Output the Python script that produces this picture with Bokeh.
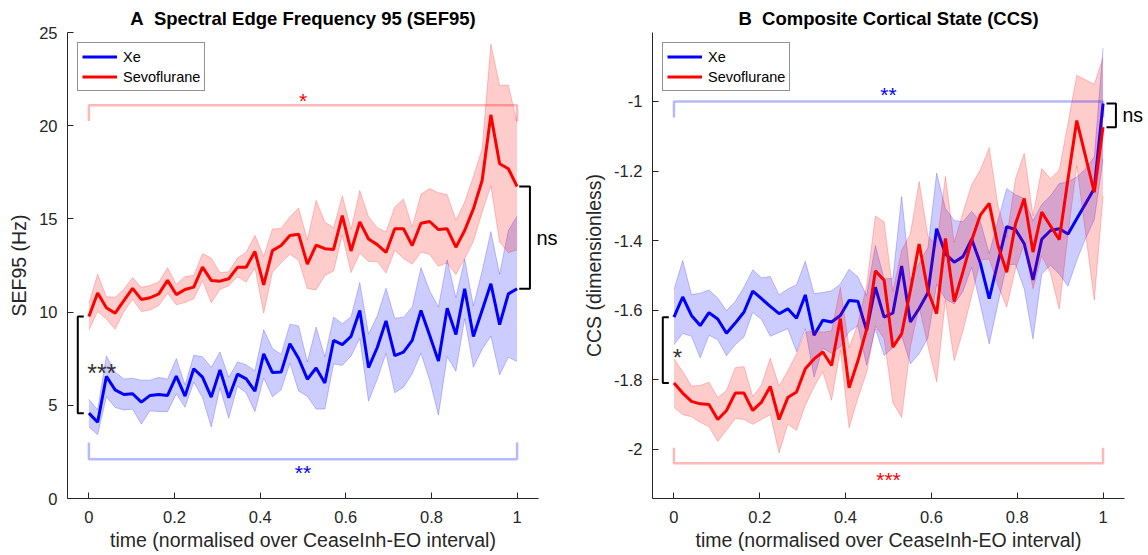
import numpy as np
from bokeh.plotting import figure
from bokeh.models import Range1d, FixedTicker, CustomJSTickFormatter, Legend, LegendItem, LinearAxis
from bokeh.layouts import row
from bokeh.embed import file_html
from bokeh.resources import INLINE
from bokeh.core.properties import value

# ---------------- data ----------------
time = np.linspace(0, 1, 50)

sef_xe = [4.58, 4.09, 6.55, 5.83, 5.58, 5.62, 5.17, 5.53, 5.58, 5.53,
          6.56, 5.49, 6.96, 6.51, 5.44, 6.90, 5.40, 6.67, 6.42, 5.76,
          7.76, 6.76, 6.78, 8.30, 7.51, 6.40, 7.00, 6.20, 8.48, 8.26,
          8.70, 10.09, 7.02, 8.10, 9.53, 7.67, 7.85, 8.48, 10.09, 8.74,
          7.37, 10.21, 8.80, 11.25, 8.69, 10.10, 11.52, 9.33, 10.98, 11.25]
sef_xe_err = [0.74, 0.67, 1.1, 0.95, 0.83, 0.83, 1.18, 0.82, 0.92, 0.87,
              0.95, 0.6, 0.72, 1.1, 1.6, 0.96, 1.1, 0.65, 0.76, 1.1,
              1.3, 1.3, 0.95, 1.05, 1.75, 0.92, 2.2, 1.4, 1.26, 1.12,
              1.05, 1.5, 1.8, 1.7, 1.75, 2.0, 1.88, 1.79, 2.3, 2.4,
              2.9, 2.6, 1.97, 1.6, 1.65, 2.1, 2.8, 2.7, 3.4, 3.9]
sef_sevo = [9.76, 11.03, 10.23, 9.94, 10.62, 11.27, 10.68, 10.77, 10.98, 11.70,
            10.94, 11.21, 11.34, 12.41, 11.70, 11.66, 11.79, 12.40, 12.41, 13.25,
            11.46, 13.30, 13.57, 14.11, 14.18, 12.57, 13.59, 13.40, 13.36, 15.18,
            13.28, 14.84, 13.92, 13.62, 13.20, 14.47, 14.47, 13.57, 14.77, 14.86,
            14.43, 14.47, 13.48, 14.38, 15.54, 17.06, 20.58, 17.96, 17.69, 16.74]
sef_sevo_err = [0.72, 1.0, 0.6, 0.86, 0.6, 0.58, 0.65, 0.66, 0.63, 0.68,
                0.55, 0.7, 0.63, 0.73, 1.2, 0.45, 0.38, 0.5, 0.8, 0.87,
                1.52, 1.16, 0.92, 1.0, 1.4, 1.3, 2.4, 1.43, 1.16, 1.05,
                1.16, 1.68, 1.2, 0.91, 1.1, 1.16, 1.6, 1.0, 1.55, 1.77,
                1.97, 1.83, 1.46, 1.52, 1.74, 1.7, 3.8, 4.2, 4.5, 3.4]

ccs_xe = [-1.620, -1.562, -1.615, -1.644, -1.607, -1.625, -1.666, -1.637, -1.605, -1.545,
          -1.567, -1.589, -1.610, -1.596, -1.623, -1.556, -1.672, -1.629, -1.634, -1.615,
          -1.572, -1.574, -1.658, -1.534, -1.620, -1.608, -1.473, -1.634, -1.595, -1.550,
          -1.366, -1.438, -1.462, -1.446, -1.396, -1.466, -1.567, -1.462, -1.360, -1.368,
          -1.409, -1.513, -1.396, -1.371, -1.366, -1.381, -1.337, -1.294, -1.250, -1.006]
ccs_xe_err = [0.079, 0.105, 0.06, 0.093, 0.065, 0.06, 0.065, 0.062, 0.072, 0.061,
              0.06, 0.086, 0.054, 0.057, 0.096, 0.097, 0.12, 0.08, 0.09, 0.09,
              0.09, 0.07, 0.1, 0.12, 0.11, 0.1, 0.2, 0.12, 0.13, 0.13,
              0.16, 0.13, 0.12, 0.1, 0.08, 0.12, 0.13, 0.12, 0.11, 0.1,
              0.13, 0.17, 0.1, 0.1, 0.13, 0.15, 0.12, 0.1, 0.09, 0.16]
ccs_sevo = [-1.809, -1.838, -1.862, -1.869, -1.871, -1.914, -1.888, -1.838, -1.838, -1.888,
            -1.864, -1.819, -1.914, -1.851, -1.835, -1.768, -1.740, -1.720, -1.759, -1.624,
            -1.823, -1.746, -1.655, -1.487, -1.514, -1.706, -1.668, -1.543, -1.410, -1.545,
            -1.610, -1.394, -1.575, -1.490, -1.399, -1.326, -1.293, -1.414, -1.491, -1.352,
            -1.279, -1.433, -1.318, -1.358, -1.397, -1.222, -1.055, -1.158, -1.261, -1.074]
ccs_sevo_err = [0.07, 0.062, 0.044, 0.053, 0.064, 0.063, 0.057, 0.073, 0.076, 0.04,
                0.05, 0.081, 0.096, 0.077, 0.11, 0.105, 0.08, 0.057, 0.1, 0.09,
                0.115, 0.107, 0.125, 0.158, 0.168, 0.16, 0.24, 0.163, 0.18, 0.158,
                0.196, 0.178, 0.17, 0.17, 0.16, 0.13, 0.16, 0.115, 0.1, 0.13,
                0.13, 0.105, 0.125, 0.136, 0.2, 0.16, 0.13, 0.22, 0.31, 0.2]

series_names = ["Xe", "Sevoflurane"]
x_ticks = [0, 0.2, 0.4, 0.6, 0.8, 1]
sef_ticks = [0, 5, 10, 15, 20, 25]
ccs_ticks = [-2, -1.8, -1.6, -1.4, -1.2, -1]

FONT = "Liberation Sans"
AX = "#262626"
BLUE = "#0000ff"
RED = "#ff0000"

fmt = CustomJSTickFormatter(code="return (Math.round(tick*1000)/1000).toString();")


def make_fig(title, ylabel, yr, yticks, left_border, right_border, frame_w):
    p = figure(frame_width=frame_w, frame_height=466, output_backend="svg", toolbar_location=None,
               x_range=Range1d(-0.05, 1.05), y_range=Range1d(*yr),
               min_border_left=left_border, min_border_right=right_border,
               min_border_top=32, min_border_bottom=57)
    p.title.text = title
    p.title.align = "center"
    p.title.text_font = FONT
    p.title.text_font_size = "18.5px"
    p.title.text_font_style = "bold"
    p.title.text_color = "black"
    p.title.standoff = 7
    p.xgrid.visible = False
    p.ygrid.visible = False
    p.outline_line_color = None
    p.background_fill_color = "white"
    p.border_fill_color = "white"
    for ax, ticks in ((p.xaxis[0], x_ticks), (p.yaxis[0], yticks)):
        ax.ticker = FixedTicker(ticks=ticks)
        ax.formatter = fmt
        ax.axis_line_color = AX
        ax.axis_line_width = 1
        ax.major_tick_line_color = AX
        ax.major_tick_in = 6
        ax.major_tick_out = 0
        ax.minor_tick_line_color = None
        ax.major_label_text_font = FONT
        ax.major_label_text_font_size = "16.5px"
        ax.major_label_text_color = AX
        ax.axis_label_text_font = FONT
        ax.axis_label_text_font_size = "19.5px"
        ax.axis_label_text_font_style = "normal"
        ax.axis_label_text_color = AX
    p.xaxis.major_label_standoff = 12
    p.xaxis.axis_label_standoff = 3
    p.yaxis.major_label_standoff = 10
    p.yaxis.axis_label_standoff = 6
    p.xaxis.axis_label = "time (normalised over CeaseInh-EO interval)"
    p.yaxis.axis_label = ylabel
    return p


def draw_series(p, mean, err, color):
    m = np.array(mean)
    e = np.array(err)
    p.varea(x=time, y1=m - e, y2=m + e, fill_color=color, fill_alpha=0.2)
    p.line(time, m + e, line_color=color, line_alpha=0.22, line_width=1)
    p.line(time, m - e, line_color=color, line_alpha=0.22, line_width=1)
    return p.line(time, m, line_color=color, line_width=3)


def add_legend(p, r_xe, r_sevo):
    leg = Legend(items=[LegendItem(label=series_names[0], renderers=[r_xe]),
                        LegendItem(label=series_names[1], renderers=[r_sevo])],
                 location="top_left")
    leg.margin = 10
    leg.padding = 4
    leg.spacing = 1
    leg.glyph_width = 35
    leg.glyph_height = 19
    leg.label_standoff = 6
    leg.label_text_font = FONT
    leg.label_text_font_size = "14.5px"
    leg.label_text_color = "black"
    leg.border_line_color = AX
    leg.border_line_width = 1
    leg.background_fill_alpha = 1
    p.add_layout(leg)


def sig_bracket(p, y_bar, y_tick, color, stars, y_star):
    p.line([0, 0, 1, 1], [y_tick, y_bar, y_bar, y_tick], line_color=color,
           line_alpha=0.28, line_width=2.5)
    p.text(x=[0.5], y=[y_star], text=[stars], text_color=color, text_font=value(FONT),
           text_font_size="21px", text_align="center", text_baseline="middle")


def black_bracket(p, x_bar, x_tick, y0, y1):
    p.line([x_tick, x_bar, x_bar, x_tick], [y0, y0, y1, y1], line_color="black", line_width=2)


def note(p, x, y, txt, size, color="black", align="left"):
    p.text(x=[x], y=[y], text=[txt], text_color=color, text_font=value(FONT),
           text_font_size=size, text_align=align, text_baseline="middle")


def ns_label(p, y_mid, size):
    # "ns" drawn outside the frame as the single label of a bare right-hand axis
    ax = LinearAxis(ticker=FixedTicker(ticks=[y_mid]),
                    formatter=CustomJSTickFormatter(code="return 'ns';"))
    ax.axis_line_color = None
    ax.major_tick_line_color = None
    ax.minor_tick_line_color = None
    ax.major_label_standoff = -8
    ax.major_label_text_font = FONT
    ax.major_label_text_font_size = size
    ax.major_label_text_color = "black"
    p.add_layout(ax, "right")


# ---------------- panel A ----------------
pa = make_fig("A\u00a0\u00a0Spectral Edge Frequency 95 (SEF95)", "SEF95 (Hz)", (0, 25),
              sef_ticks, 67, 41, 471)
ra_xe = draw_series(pa, sef_xe, sef_xe_err, BLUE)
ra_sv = draw_series(pa, sef_sevo, sef_sevo_err, RED)
add_legend(pa, ra_xe, ra_sv)
sig_bracket(pa, 21.1, 20.25, RED, "*", 21.35)
sig_bracket(pa, 2.1, 3.0, BLUE, "**", 1.4)
black_bracket(pa, -0.026, -0.012, sef_xe[0], sef_sevo[0])
note(pa, 0.03, 6.75, "***", "25px", "#333333", "center")
black_bracket(pa, 1.03, 1.005, sef_xe[-1], sef_sevo[-1])
ns_label(pa, (sef_xe[-1] + sef_sevo[-1]) / 2, "20px")

# ---------------- panel B ----------------
pb = make_fig("B\u00a0\u00a0Composite Cortical State (CCS)", "CCS (dimensionless)", (-2.141, -0.802),
              ccs_ticks, 73, 22, 472)
rb_xe = draw_series(pb, ccs_xe, ccs_xe_err, BLUE)
rb_sv = draw_series(pb, ccs_sevo, ccs_sevo_err, RED)
add_legend(pb, rb_xe, rb_sv)
sig_bracket(pb, -1.0, -1.046, BLUE, "**", -0.98)
sig_bracket(pb, -2.04, -1.995, RED, "***", -2.085)
black_bracket(pb, -0.026, -0.012, ccs_xe[0], ccs_sevo[0])
note(pb, 0.008, -1.735, "*", "24px", "#333333", "center")
black_bracket(pb, 1.03, 1.008, ccs_xe[-1], ccs_sevo[-1])
ns_label(pb, (ccs_xe[-1] + ccs_sevo[-1]) / 2, "19.5px")

layout = row(pa, pb)
open("out.html", "w").write(file_html(layout, INLINE))
